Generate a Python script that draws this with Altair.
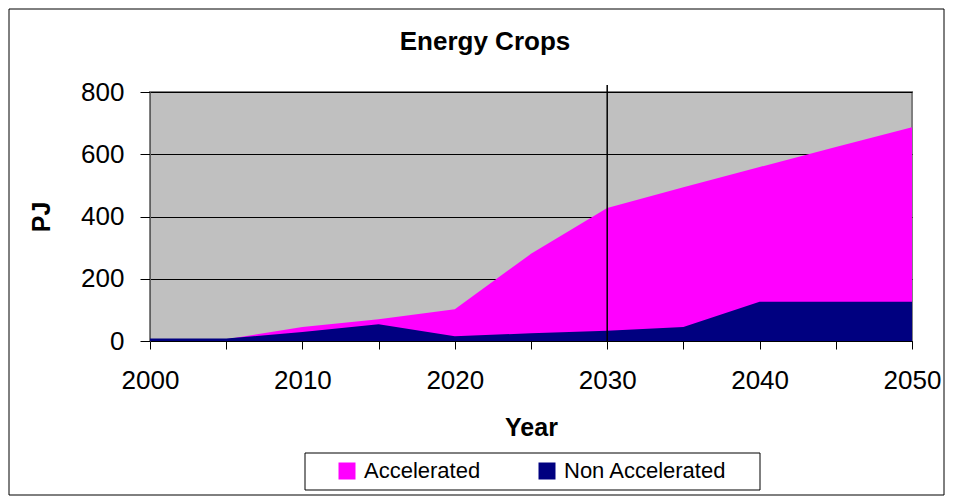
import altair as alt
import pandas as pd

years = [2000, 2005, 2010, 2015, 2020, 2025, 2030, 2035, 2040, 2045, 2050]
accelerated = [6, 6, 45, 70, 102, 280, 427, 494, 559, 623, 687]
non_accelerated = [8, 8, 29, 54, 15, 25, 33, 45, 126, 126, 126]
series_names = ["Accelerated", "Non Accelerated"]
series_colors = ["#FF00FF", "#000080"]
y_ticks = [0, 200, 400, 600, 800]
x_ticks = [2000, 2005, 2010, 2015, 2020, 2025, 2030, 2035, 2040, 2045, 2050]
marker_year = [2030]

rows = []
for y, a, n in zip(years, accelerated, non_accelerated):
    rows.append({"year": y, "series": series_names[0], "value": a})
    rows.append({"year": y, "series": series_names[1], "value": n})
df = pd.DataFrame(rows)

FONT = "Liberation Sans"
W, H = 762, 249

x_enc = alt.X(
    "year:Q",
    scale=alt.Scale(domain=[2000, 2050], nice=False, zero=False),
    axis=alt.Axis(
        values=x_ticks, format="d", grid=False,
        labelExpr="datum.value % 10 == 0 ? datum.label : ''",
        title="Year", titleFontSize=25, titleFontWeight="bold", titleFont=FONT,
        titlePadding=22, labelFontSize=26, labelFont=FONT, labelPadding=18,
        tickSize=8, tickColor="black", domainColor="black", labelColor="black",
        titleColor="black", labelFlush=False,
    ),
)

y_enc = alt.Y(
    "value:Q", stack=None,
    scale=alt.Scale(domain=[0, 800], nice=False),
    axis=alt.Axis(
        values=y_ticks, grid=True, gridColor="black", gridWidth=1,
        title="PJ", titleFontSize=25, titleFontWeight="bold", titleFont=FONT,
        titlePadding=26, labelFontSize=26, labelFont=FONT, labelPadding=16,
        tickSize=10, tickColor="black", domainColor="#606060", labelColor="black",
        titleColor="black",
    ),
)

areas = alt.Chart(df).mark_area(opacity=1).encode(
    x=x_enc,
    y=y_enc,
    color=alt.Color(
        "series:N",
        scale=alt.Scale(domain=series_names, range=series_colors),
        legend=alt.Legend(
            title=None, orient="none", legendX=186, legendY=368,
            direction="horizontal", padding=0,
            symbolType="square", symbolSize=289, symbolStrokeWidth=0,
            symbolOpacity=1,
            labelFontSize=22, labelFont=FONT, labelColor="black", labelOffset=6,
            columnPadding=55, labelLimit=300,
        ),
    ),
)

rule = alt.Chart(pd.DataFrame({"year": marker_year})).mark_rule(
    color="black", strokeWidth=1.5, clip=False
).encode(x="year:Q", y=alt.value(-7), y2=alt.value(H))

one = pd.DataFrame({"k": [0]})
title = alt.Chart(one).mark_text(
    text="Energy Crops", font=FONT, fontSize=26, fontWeight="bold", color="black"
).encode(x=alt.value(335), y=alt.value(-50))

frame = alt.Chart(one).mark_rect(
    filled=False, stroke="black", strokeWidth=1, clip=False
).encode(x=alt.value(-141), x2=alt.value(794), y=alt.value(-83), y2=alt.value(403))

legend_box = alt.Chart(one).mark_rect(
    filled=False, stroke="black", strokeWidth=1, clip=False
).encode(x=alt.value(155), x2=alt.value(610), y=alt.value(361), y2=alt.value(398))

chart = alt.layer(areas, rule, title, legend_box, frame).properties(
    width=W, height=H,
    background="white",
    autosize=alt.AutoSizeParams(type="none"),
    padding={"left": 142, "top": 84, "right": 33, "bottom": 155},
).configure_view(
    fill="#C0C0C0", stroke="#808080", strokeWidth=2
)

chart.save("out.html", embed_options={"renderer": "svg", "actions": False})
